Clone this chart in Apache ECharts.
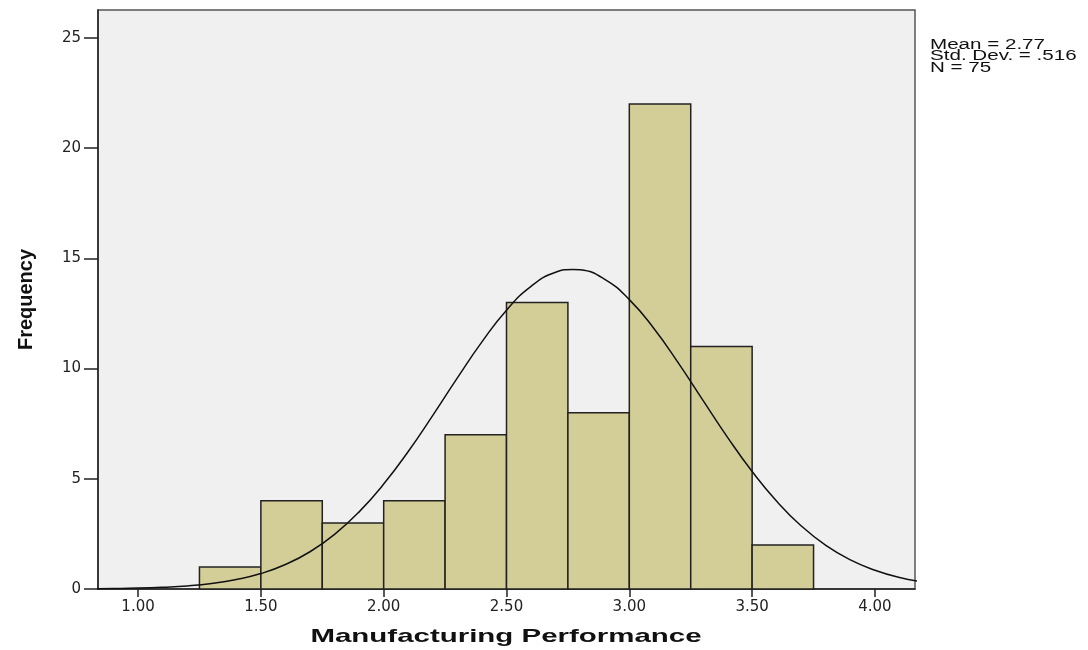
<!DOCTYPE html>
<html>
<head>
<meta charset="utf-8">
<script src="https://cdn.jsdelivr.net/npm/echarts@6/dist/echarts.min.js"></script>
<style>html,body{margin:0;padding:0;background:#fff}#c{width:1088px;height:650px}</style>
</head>
<body>
<div id="c"></div>
<script>
// Histogram bins (lower edge, upper edge) and frequencies
const binStart = [1.25, 1.50, 1.75, 2.00, 2.25, 2.50, 2.75, 3.00, 3.25, 3.50];
const binEnd   = [1.50, 1.75, 2.00, 2.25, 2.50, 2.75, 3.00, 3.25, 3.50, 3.75];
const freq     = [1, 4, 3, 4, 7, 13, 8, 22, 11, 2];
// Normal curve points
const curveX = [0.8,0.9,1.0,1.1,1.2,1.3,1.4,1.5,1.6,1.7,1.8,1.9,2.0,2.1,2.2,2.3,2.4,2.5,2.6,2.7,2.77,2.8,2.9,3.0,3.1,3.2,3.3,3.4,3.5,3.6,3.7,3.8,3.9,4.0,4.1,4.2];
const curveY = [0.01,0.02,0.04,0.08,0.14,0.25,0.43,0.70,1.11,1.69,2.48,3.50,4.76,6.24,7.88,9.58,11.21,12.65,13.73,14.37,14.50,14.48,14.05,13.13,11.82,10.25,8.56,6.88,5.33,3.98,2.86,1.98,1.32,0.85,0.52,0.31];
const xTicks = [1.0, 1.5, 2.0, 2.5, 3.0, 3.5, 4.0];
const yTicks = [0, 5, 10, 15, 20, 25];
const statsText = ['Mean = 2.77', 'Std. Dev. = .516', 'N = 75'];
const xTitle = 'Manufacturing Performance';
const yTitle = 'Frequency';

const chart = echarts.init(document.getElementById('c'), null, {renderer: 'canvas'});
const font = 'Liberation Sans, Arial, sans-serif';
const wideFont = 'DejaVu Sans, Liberation Sans, sans-serif';
chart.setOption({
  animation: false,
  grid: {left: 98, right: 173, top: 10, bottom: 61, show: true, backgroundColor: '#f0f0f0', borderColor: '#555', borderWidth: 1.5},
  xAxis: {
    type: 'value', min: 0.837, max: 4.163,
    splitLine: {show: false},
    axisLine: {show: true, onZero: false, lineStyle: {color: '#222', width: 1.5}},
    axisTick: {show: true, length: 8, customValues: xTicks, lineStyle: {color: '#222', width: 1.5}},
    axisLabel: {customValues: xTicks, formatter: v => v.toFixed(2), color: '#222', fontFamily: wideFont, fontSize: 15, margin: 11}
  },
  yAxis: {
    type: 'value', min: 0, max: 26.27,
    splitLine: {show: false},
    axisLine: {show: true, lineStyle: {color: '#222', width: 1.5}},
    axisTick: {show: true, length: 14, customValues: yTicks, lineStyle: {color: '#222', width: 1.5}},
    axisLabel: {customValues: yTicks, color: '#222', fontFamily: wideFont, fontSize: 15, margin: 17},
    name: yTitle, nameLocation: 'middle', nameGap: 62, nameRotate: 90,
    nameTextStyle: {fontFamily: 'Liberation Sans Narrow, Liberation Sans, Arial, sans-serif', fontSize: 20, fontWeight: 'bold', color: '#111'}
  },
  graphic: [{
    type: 'text', left: 930, top: 38, scaleX: 1.47,
    style: {text: statsText.join('\n'), font: '14px ' + font, fill: '#111', lineHeight: 11.5}
  }, {
    type: 'text', x: 506, y: 637, scaleX: 1.55, originX: 0,
    style: {text: xTitle, font: 'bold 19px ' + font, fill: '#111', align: 'center', verticalAlign: 'middle'}
  }],
  series: [{
    type: 'custom',
    data: binStart.map((s, i) => [s, binEnd[i], freq[i]]),
    renderItem: function (params, api) {
      const p0 = api.coord([api.value(0), 0]);
      const p1 = api.coord([api.value(1), api.value(2)]);
      return {
        type: 'rect',
        shape: {x: p0[0], y: p1[1], width: p1[0] - p0[0], height: p0[1] - p1[1]},
        style: {fill: '#d3ce97', stroke: '#222', lineWidth: 1.5}
      };
    },
    z: 2
  }, {
    type: 'line', data: curveX.map((x, i) => [x, curveY[i]]),
    smooth: true, showSymbol: false, clip: true,
    lineStyle: {color: '#111', width: 1.5}, z: 3
  }]
});
</script>
</body>
</html>
